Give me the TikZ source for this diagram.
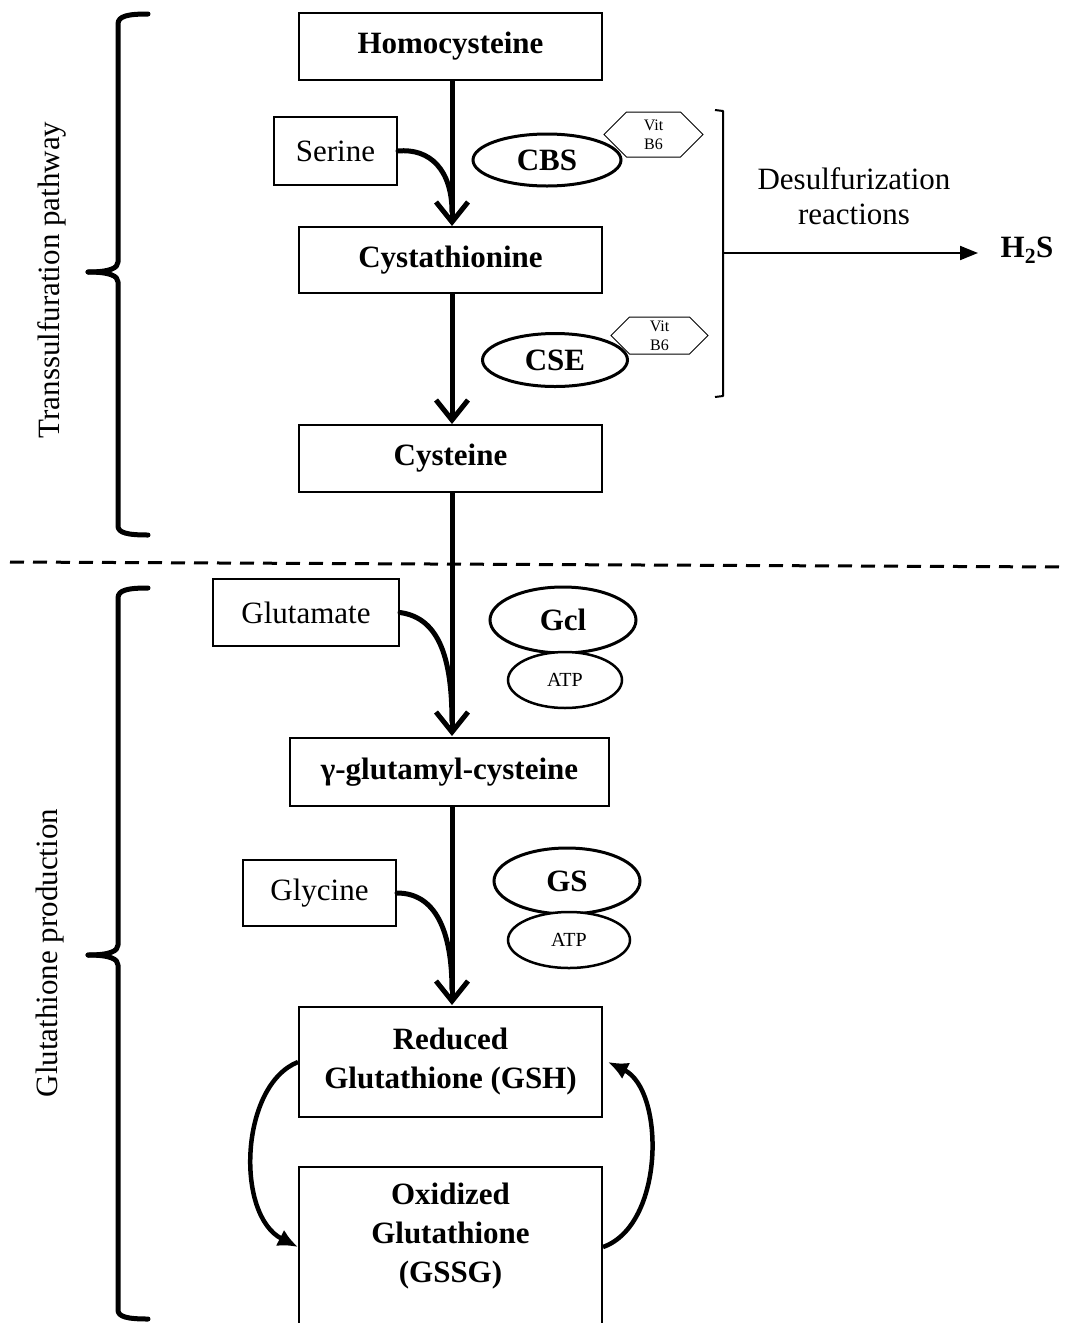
\documentclass[tikz,border=0pt]{standalone}
\usepackage{fontspec}
\setmainfont{Liberation Serif}
\usetikzlibrary{arrows.meta,shapes.geometric,shapes.symbols,calc}
\begin{document}
\begin{tikzpicture}[x=1pt,y=-1pt,
  box/.style={draw,line width=2pt,rectangle,inner sep=0pt,align=center},
  big/.style={font=\fontsize{31}{39}\selectfont},
  bigb/.style={font=\fontsize{31}{39}\selectfont\bfseries},
  enz/.style={draw,ellipse,line width=3pt,fill=white,inner sep=0pt,font=\fontsize{31}{39}\selectfont\bfseries},
  atp/.style={draw,ellipse,line width=2.5pt,fill=white,inner sep=0pt,font=\fontsize{20}{24}\selectfont},
  vit/.style={draw,signal,signal to=east and west,line width=1pt,inner sep=0pt,align=center,font=\fontsize{16}{19}\selectfont},
  main/.style={line width=5pt,-{Straight Barb[length=20pt,width=32pt,line width=5pt]}},
  merge/.style={line width=5pt,line cap=round},
  brace/.style={line width=5pt,line cap=round,line join=round},
  cyc/.style={line width=4.5pt,-{Latex[length=20pt,width=18pt]}}
]
\useasboundingbox (0,0) rectangle (1065,1323);

% boxes
\node[box,bigb,minimum width=303pt,minimum height=67pt] (homo) at (450.5,46.5) {Homocysteine};
\node[box,big,minimum width=123pt,minimum height=68pt] (ser) at (335.5,151) {Serine};
\node[box,bigb,minimum width=303pt,minimum height=66pt] (cysta) at (450.5,260) {Cystathionine};
\node[box,bigb,minimum width=303pt,minimum height=67pt] (cys) at (450.5,458.5) {Cysteine};
\node[box,big,minimum width=186pt,minimum height=67pt] (glu) at (306,612.5) {Glutamate};
\node[box,bigb,minimum width=319pt,minimum height=68pt] (ggc) at (449.5,772) {γ-glutamyl-cysteine};
\node[box,big,minimum width=153pt,minimum height=66pt] (gly) at (319.5,893) {Glycine};
\node[box,bigb,minimum width=303pt,minimum height=110pt] (gsh) at (450.5,1062) {Reduced\\Glutathione (GSH)};
\node[box,minimum width=303pt,minimum height=160pt] (gssg) at (450.5,1247) {};
\node[bigb,align=center] (gssgt) at (450.5,1236) {Oxidized\\Glutathione\\(GSSG)};

% vitamin hexagons and enzymes
\node[vit,minimum width=99pt,minimum height=45pt] (vit1) at (653.5,134.5) {Vit\\B6};
\node[vit,minimum width=97pt,minimum height=37pt] (vit2) at (659.5,335.5) {Vit\\B6};
\node[enz,minimum width=148pt,minimum height=52pt] (cbs) at (547,160) {CBS};
\node[enz,minimum width=145pt,minimum height=53pt] (cse) at (555,360) {CSE};
\node[enz,minimum width=146pt,minimum height=66pt] (gcl) at (563,620) {Gcl};
\node[atp,minimum width=114pt,minimum height=56pt] (atp1) at (565,680) {ATP};
\node[enz,minimum width=146pt,minimum height=66pt] (gs) at (567,881) {GS};
\node[atp,minimum width=122pt,minimum height=56pt] (atp2) at (569,940) {ATP};

% main arrows
\draw[main] (452,80) -- (452,226);
\draw[main] (452,293) -- (452,424);
\draw[main] (452,492) -- (452,736);
\draw[main] (452,806) -- (452,1005);
\draw[merge] (ser.east) .. controls (430,148) and (452,170) .. (452,212);
\draw[merge] (glu.east) .. controls (440,618) and (452,660) .. (452,722);
\draw[merge] (gly.east) .. controls (435,893) and (452,930) .. (452,990);

% redox cycle
\draw[cyc] (gsh.west) .. controls (240,1085) and (235,1215) .. (gssg.west);
\draw[cyc] (gssg.east) .. controls (665,1225) and (665,1090) .. ($(gsh.east)+(5,0)$);

% desulfurization bracket
\coordinate (bt) at (723,111);
\coordinate (bb) at (723,396);
\coordinate (bm) at (723,253);
\draw[line width=2pt,line join=round] (715,110) -- (bt) -- (bb) -- (715,397);
\node[big,align=center,font=\fontsize{31}{35}\selectfont] (desul) at (854,196) {Desulfurization\\reactions};
\node[bigb,inner sep=0pt] (h2s) at (1027,250) {H\textsubscript{2}S};
\draw[line width=2pt,-{Triangle[length=18pt,width=14pt]}] (bm) -- (978,253);

% dashed separator
\coordinate (dl) at (10,562);
\coordinate (dr) at (1065,567);
\draw[line width=3pt,dash pattern=on 14pt off 9pt] (dl) -- (dr);

% left braces
\draw[brace] (148,14) .. controls (128,14) and (118,16) .. (118,24) -- (118,262)
  .. controls (118,268) and (110,272) .. (88,272);
\draw[brace] (88,272) .. controls (110,272) and (118,276) .. (118,282) -- (118,526)
  .. controls (118,533) and (128,535) .. (148,535);
\draw[brace] (148,588) .. controls (128,588) and (118,590) .. (118,598) -- (118,945)
  .. controls (118,951) and (110,955) .. (88,955);
\draw[brace] (88,955) .. controls (110,955) and (118,959) .. (118,965) -- (118,1310)
  .. controls (118,1317) and (128,1319) .. (148,1319);
\node[big,rotate=90] (tp) at (52,280) {Transsulfuration pathway};
\node[big,rotate=90] (gp) at (50,953) {Glutathione production};
\end{tikzpicture}
\end{document}
